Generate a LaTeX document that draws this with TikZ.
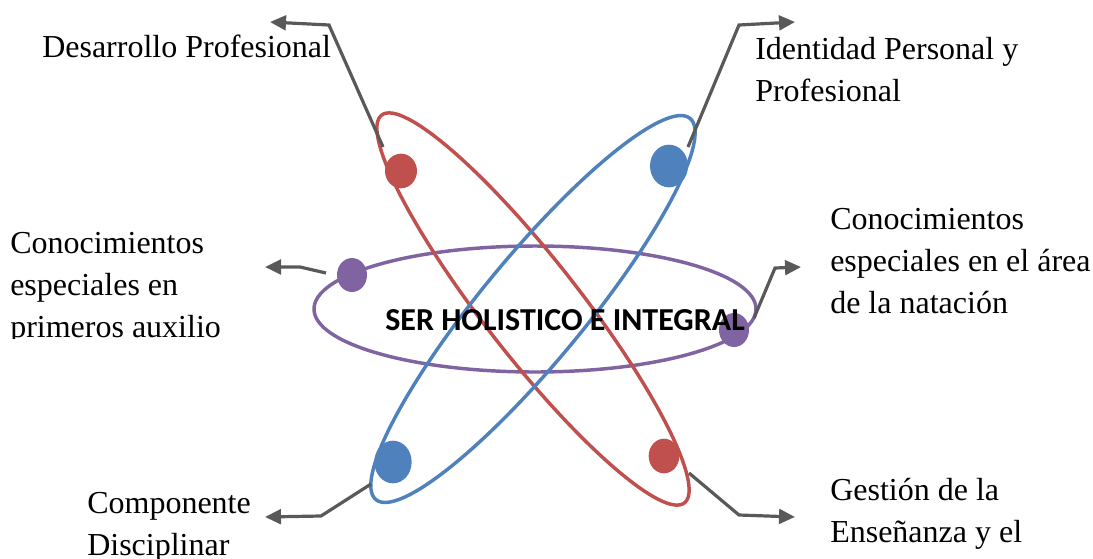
\documentclass[tikz,border=0pt]{standalone}
\usepackage{fontspec}
\setmainfont{Liberation Serif}
\newfontfamily\calibrifont{Carlito}
\usetikzlibrary{arrows.meta,shapes,positioning,calc}
\definecolor{holred}{RGB}{192,80,77}
\definecolor{holblue}{RGB}{79,129,189}
\definecolor{holpurple}{RGB}{128,100,162}
\definecolor{holgray}{RGB}{89,89,89}

\begin{document}
\begin{tikzpicture}[
    x=0.75pt, y=-0.75pt,
    orbit/.style={line width=2.6pt},
    dot/.style={ellipse, inner sep=0pt},
    aspect/.style={font=\fontsize{24}{31.5}\selectfont, align=left, inner sep=0pt, anchor=base west},
    pointer/.style={-{Triangle[length=12pt,width=11pt]}, line width=2.4pt, holgray}
]
\useasboundingbox (0,0) rectangle (1093,558);

% Orbits
\coordinate (nucleus) at (533,309);
\draw[orbit, holpurple] (535,309) ellipse (221 and 63);
\draw[orbit, holred, rotate around={-52:(nucleus)}] (nucleus) ellipse (246 and 48);
\draw[orbit, holblue, rotate around={50.5:(nucleus)}] (nucleus) ellipse (247 and 52);

% Electrons
\node[dot, fill=holred, minimum width=24pt, minimum height=26pt] (redtop) at (401,171) {};
\node[dot, fill=holred, minimum width=23pt, minimum height=26pt] (redbot) at (664,456) {};
\node[dot, fill=holblue, minimum width=28.5pt, minimum height=32pt] (bluetop) at (669,166) {};
\node[dot, fill=holblue, minimum width=28pt, minimum height=32pt] (bluebot) at (393,462) {};
\node[dot, fill=holpurple, minimum width=22.5pt, minimum height=25.5pt] (purpleleft) at (352,275) {};
\node[dot, fill=holpurple, minimum width=22.5pt, minimum height=25.5pt] (purpleright) at (734,330) {};

% Labels (anchored at the baseline of the last line)
\node[aspect] (desarrollo) at (42,57) {Desarrollo Profesional};
\node[aspect] (identidad) at (755,101) {Identidad Personal y\\Profesional};
\begin{scope}
\clip (0,0) rectangle (300,338);
\node[aspect] (auxilio) at (10,337) {Conocimientos\\especiales en\\primeros auxilio};
\end{scope}
\node[aspect] (natacion) at (830,313) {Conocimientos\\especiales en el área\\de la natación};
\node[aspect] (disciplinar) at (87,555) {Componente\\Disciplinar};
\node[aspect] (gestion) at (830,542) {Gestión de la\\Enseñanza y el};

% Pointers
\coordinate (s1) at (383,147); \coordinate (k1) at (329,25); \coordinate (t1) at (270,22);
\coordinate (s2) at (688,147); \coordinate (k2) at (739,25); \coordinate (t2) at (795,22);
\coordinate (s3) at (326,273); \coordinate (k3) at (300,267); \coordinate (t3) at (265,267);
\coordinate (s4) at (754,318); \coordinate (k4) at (775,268); \coordinate (t4) at (801,267);
\coordinate (s5) at (371,484); \coordinate (k5) at (321,516); \coordinate (t5) at (265,517);
\coordinate (s6) at (689,473); \coordinate (k6) at (739,515); \coordinate (t6) at (795,517);
\foreach \i in {1,...,6}
    \draw[pointer] (s\i) -- (k\i) -- (t\i);

% Center text
\node[font=\calibrifont\bfseries\fontsize{24}{28}\selectfont] (core) at (565,320) {SER HOLISTICO E INTEGRAL};

\end{tikzpicture}
\end{document}
